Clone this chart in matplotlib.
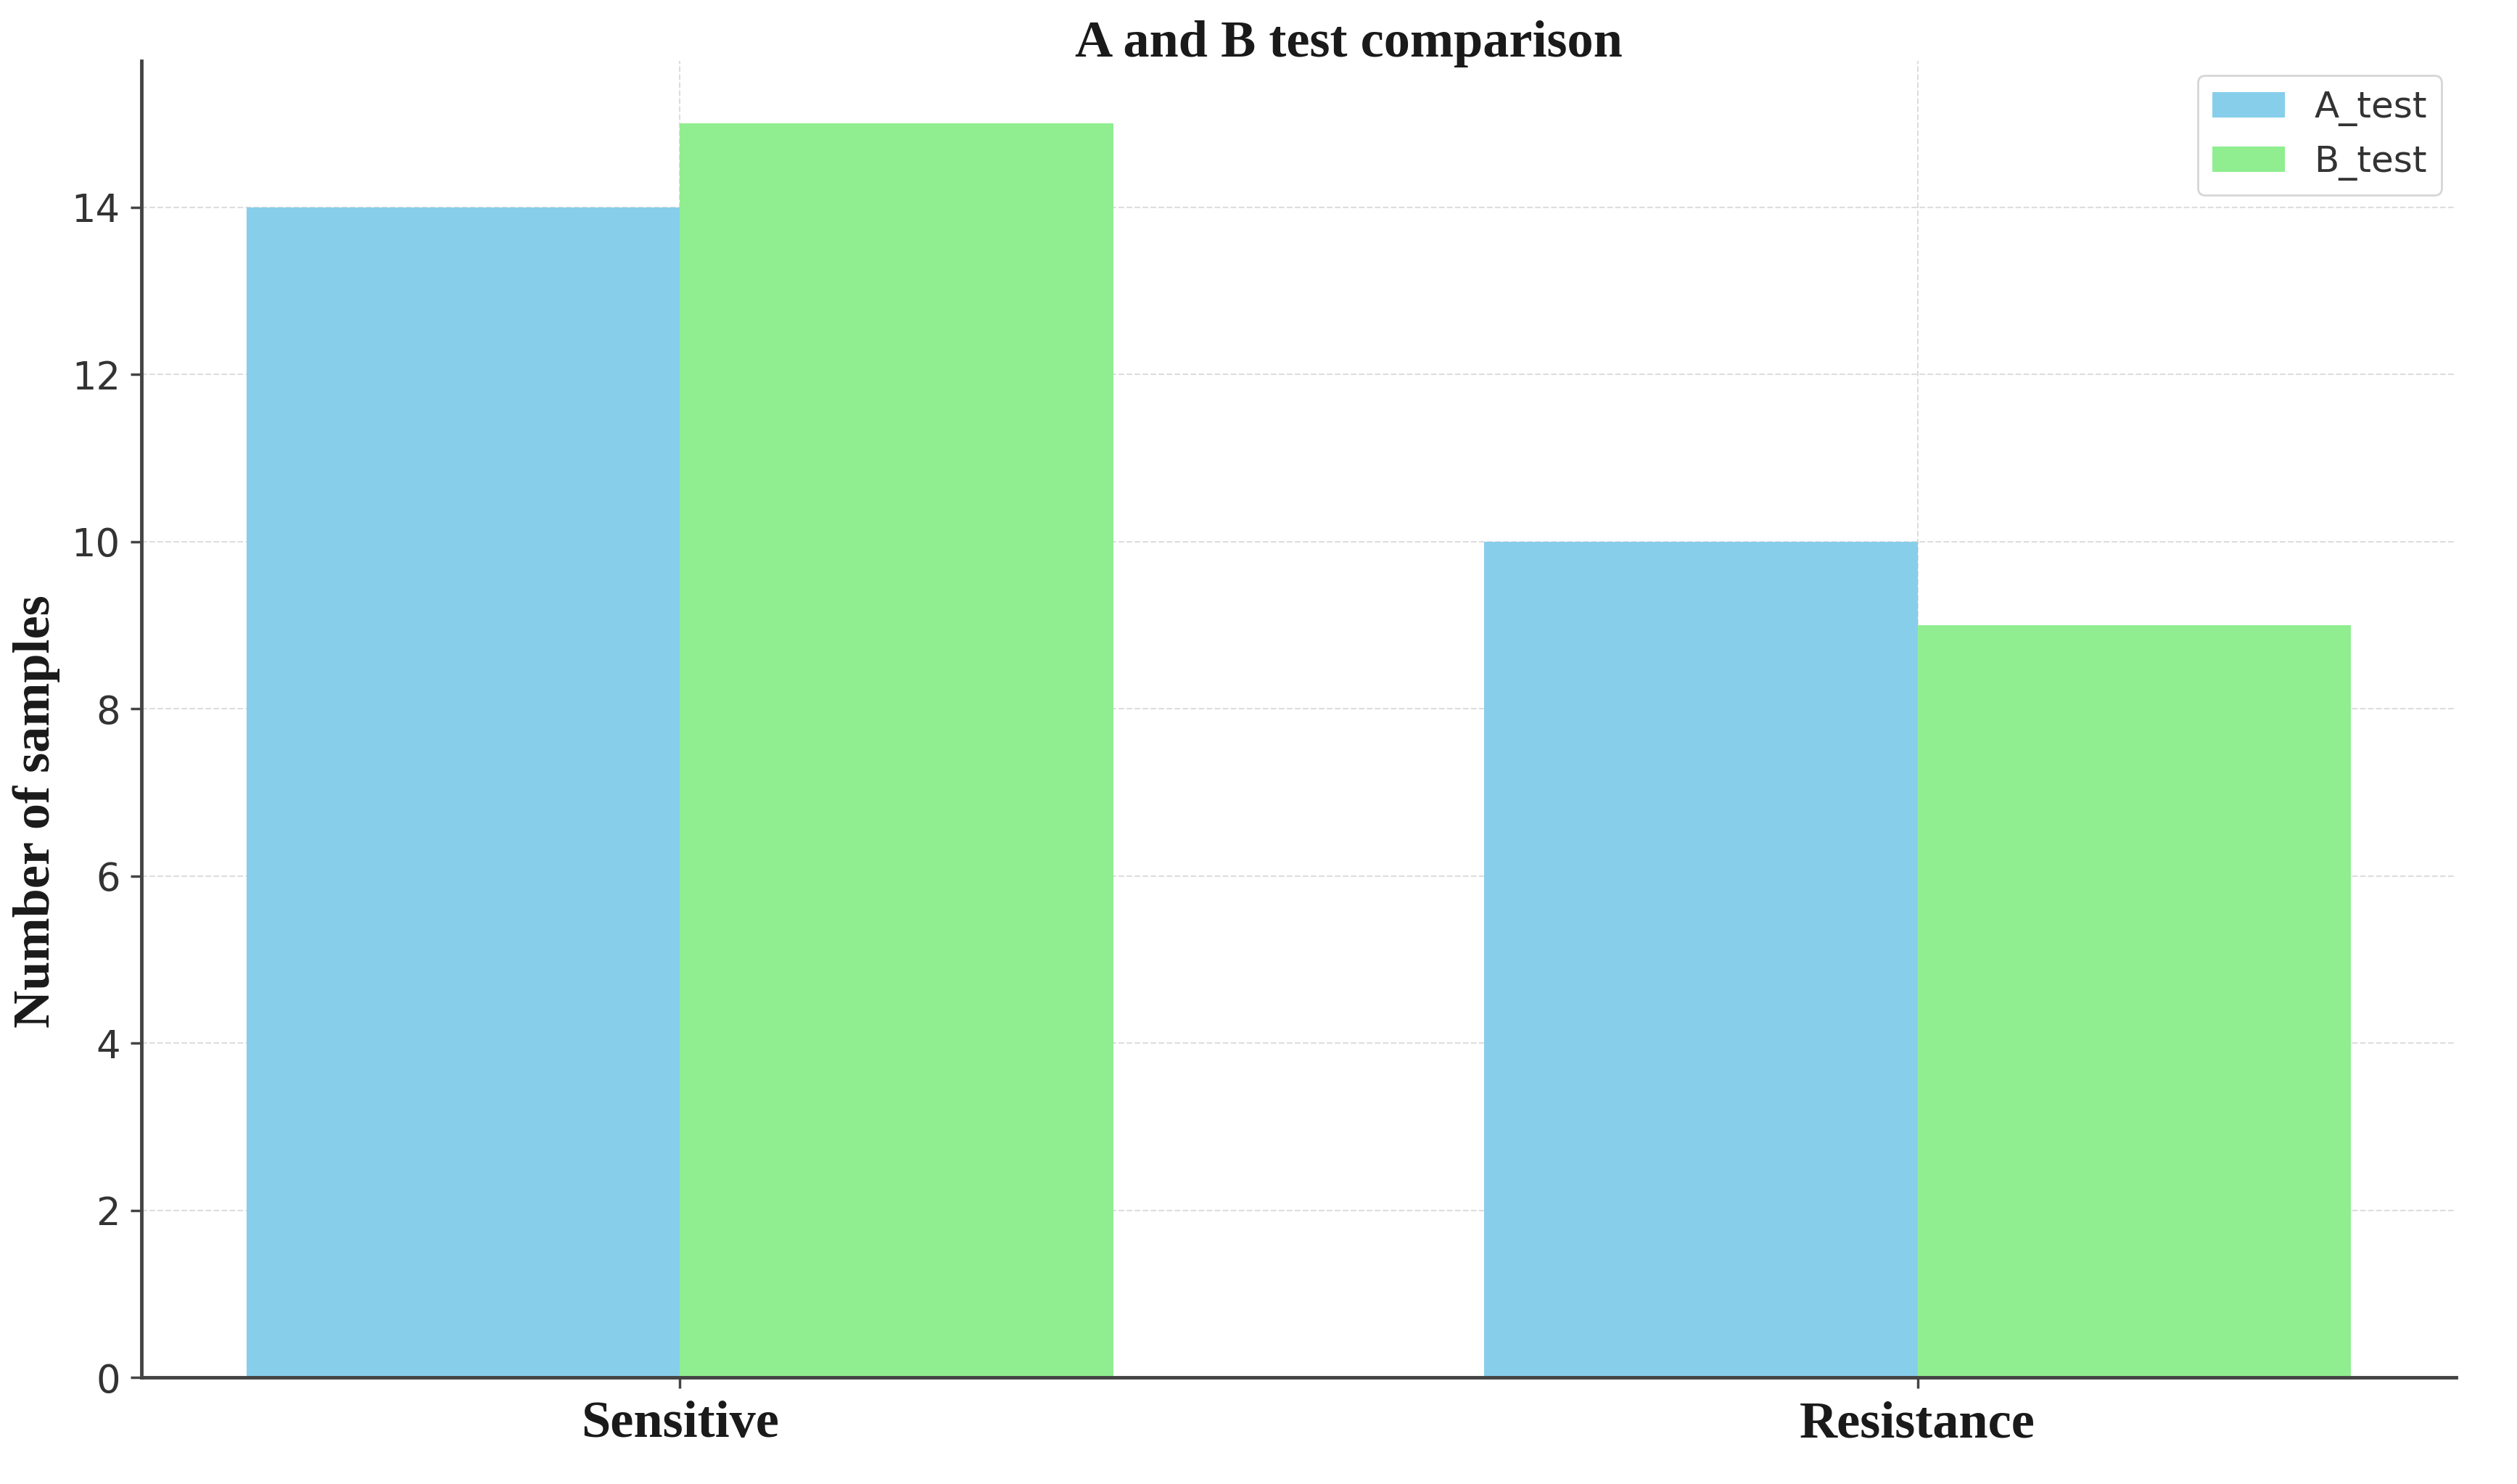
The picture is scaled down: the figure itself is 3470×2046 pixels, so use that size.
import numpy as np
import matplotlib
matplotlib.use("Agg")
import matplotlib.pyplot as plt

# data
categories = ["Sensitive", "Resistance"]
a_test = [14, 10]
b_test = [15, 9]
series_names = ["A_test", "B_test"]

bar_width = 0.35
serif = ["Liberation Serif", "DejaVu Serif"]

fig = plt.figure(figsize=(34.7, 20.46), dpi=100)
ax = fig.add_axes([0.0562, 0.0718, 0.9196, 0.8872])

x = np.arange(len(categories))
ax.bar(x - bar_width / 2, a_test, bar_width, color="skyblue", label=series_names[0])
ax.bar(x + bar_width / 2, b_test, bar_width, color="lightgreen", label=series_names[1])

ax.set_xticks(x)
ax.set_xticklabels(categories, family=serif, fontweight="bold", fontsize=52, color="#1a1a1a")
ax.set_yticks(np.arange(0, 16, 2))
ax.tick_params(axis="y", labelsize=38, labelcolor="#333333", length=11, width=2.5, color="#444444", pad=10)
ax.tick_params(axis="x", length=11, width=2.5, color="#444444", pad=12)

ax.set_ylabel("Number of samples", family=serif, fontweight="bold", fontsize=52, color="#1a1a1a", labelpad=14)
ax.yaxis.set_label_coords(-0.035, 0.43)

ax.grid(True, linestyle="--", linewidth=1.5, color="#dddddd")
ax.set_axisbelow(True)

for side in ["top", "right"]:
    ax.spines[side].set_visible(False)
for side in ["left", "bottom"]:
    ax.spines[side].set_linewidth(3.5)
    ax.spines[side].set_color("#444444")

leg = ax.legend(loc="upper right", fontsize=36, frameon=True, fancybox=True, borderaxespad=0.4)
leg.get_frame().set_edgecolor("#cccccc")
leg.get_frame().set_linewidth(2)
for t in leg.get_texts():
    t.set_color("#333333")

fig.text(0.536, 0.962, "A and B test comparison", family=serif, fontweight="bold",
         fontsize=52, color="#1a1a1a", ha="center", va="baseline")

fig.savefig("out.png", dpi=100)
